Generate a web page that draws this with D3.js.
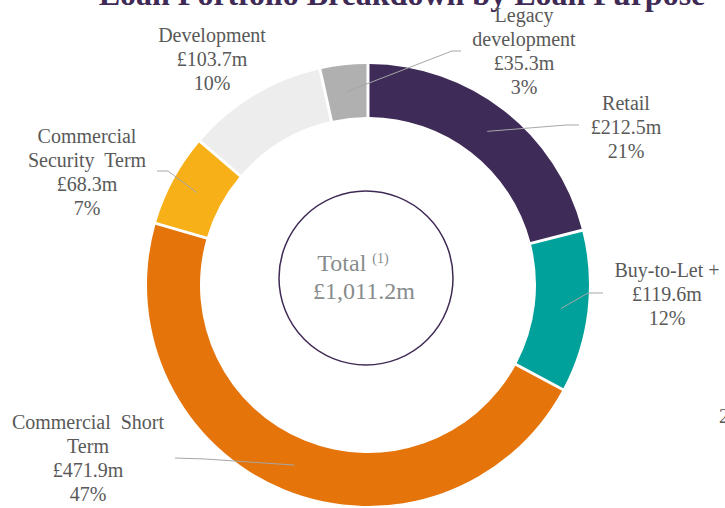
<!DOCTYPE html>
<html>
<head>
<meta charset="utf-8">
<script src="https://cdn.jsdelivr.net/npm/d3@7"></script>
<style>
    html, body { margin: 0; padding: 0; background: #fff; }
    svg { display: block; font-family: 'Liberation Serif', 'Times New Roman', serif; }
    .lbl { fill: #595959; font-size: 20px; white-space: pre; }
</style>
</head>
<body>
<svg id="chart" width="725" height="508"></svg>
<script>
    // chart data
    const categories = ["Retail", "Buy-to-Let +", "Commercial Short Term", "Commercial Security Term", "Development", "Legacy development"];
    const values = [212.5, 119.6, 471.9, 68.3, 103.7, 35.3];
    const labelLines = [
        ["Retail"],
        ["Buy-to-Let +"],
        ["Commercial  Short", "Term"],
        ["Commercial", "Security  Term"],
        ["Development"],
        ["Legacy", "development"]
    ];
    const totalLabel = "£1,011.2m";
    const colors = ["#3E2B57", "#00A19A", "#E5740B", "#F8B018", "#EDEDED", "#B0B0B0"];

    // where each label sits: text centre, first baseline, leader start + knee
    const labelPos = [
        { x: 626, y: 110, lead: [[579, 125], [566, 125]] },
        { x: 667, y: 277, lead: [[603, 293], [588, 293]] },
        { x: 88, y: 429, lead: [[175, 458], [205, 459]] },
        { x: 87, y: 143, lead: [[157, 171], [168, 171]] },
        { x: 212, y: 42, lead: null },
        { x: 524, y: 22, lead: [[461, 51], [452, 51]] }
    ];

    const svg = d3.select("#chart");
    const cx = 368, cy = 285;
    const rOuter = 221, rInner = 168;

    const total = d3.sum(values);
    const pie = d3.pie().sort(null).value(d => d)(values);
    const arc = d3.arc().innerRadius(rInner).outerRadius(rOuter).padAngle(3 / 281);
    const mid = d3.arc().innerRadius((rInner + rOuter) / 2).outerRadius((rInner + rOuter) / 2);

    const ring = svg.append("g").attr("transform", `translate(${cx},${cy})`);
    ring.selectAll("path.slice")
        .data(pie)
        .join("path")
        .attr("class", "slice")
        .attr("fill", (d, i) => colors[i])
        .attr("d", arc);

    // title, cut off at the top edge
    svg.append("text")
        .attr("x", 402).attr("y", 5)
        .attr("text-anchor", "middle")
        .attr("font-size", 32).attr("font-weight", "bold")
        .attr("fill", "#3F2A56")
        .text("Loan Portfolio Breakdown by Loan Purpose");

    // leader lines
    const line = d3.line();
    pie.forEach((d, i) => {
        const p = labelPos[i];
        if (!p.lead) return;
        const c = mid.centroid(d);
        svg.append("path")
            .attr("d", line([p.lead[0], p.lead[1], [cx + c[0], cy + c[1]]]))
            .attr("fill", "none")
            .attr("stroke", "#A6A6A6")
            .attr("stroke-width", 1);
    });

    // labels
    const fmtM = d3.format(".1f");
    categories.forEach((cat, i) => {
        const p = labelPos[i];
        const lines = labelLines[i].concat(["£" + fmtM(values[i]) + "m", Math.round(values[i] / total * 100) + "%"]);
        const t = svg.append("text")
            .attr("class", "lbl")
            .attr("text-anchor", "middle");
        lines.forEach((s, k) => {
            t.append("tspan").attr("x", p.x).attr("y", p.y + k * 24).text(s);
        });
    });

    // centre circle with total
    svg.append("circle")
        .attr("cx", 366).attr("cy", 278).attr("r", 87)
        .attr("fill", "none")
        .attr("stroke", "#3F2A56")
        .attr("stroke-width", 1.5);

    const tt = svg.append("text")
        .attr("x", 353).attr("y", 271)
        .attr("text-anchor", "middle")
        .attr("font-size", 24)
        .attr("fill", "#878C8C");
    tt.append("tspan").text("Total");
    tt.append("tspan").attr("dx", 6).attr("dy", -8).attr("font-size", 14).text("(1)");

    svg.append("text")
        .attr("x", 364).attr("y", 299)
        .attr("text-anchor", "middle")
        .attr("font-size", 24)
        .attr("fill", "#878C8C")
        .text(totalLabel);

    // stray character from the page edge
    svg.append("text")
        .attr("class", "lbl")
        .attr("x", 719).attr("y", 423)
        .text("2");
</script>
</body>
</html>
